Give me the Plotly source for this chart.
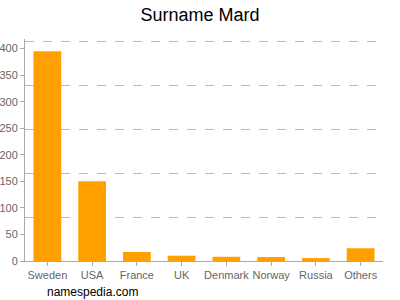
import plotly.graph_objects as go

countries = ["Sweden", "USA", "France", "UK", "Denmark", "Norway", "Russia", "Others"]
counts = [395, 150, 17, 10, 8, 7.5, 5.5, 24]
y_ticks = [0, 50, 100, 150, 200, 250, 300, 350, 400]
y_max = 418
grid_step = 82.8

fig = go.Figure()
fig.add_trace(go.Bar(
    x=countries, y=counts,
    marker=dict(color="#FFA000", line=dict(color="#FFC870", width=0)),
    hoverinfo="x+y",
))
fig.add_trace(go.Scatter(x=[countries[0]], y=[0], yaxis="y2", mode="markers",
                         marker=dict(opacity=0), showlegend=False, hoverinfo="skip"))

fig.update_layout(
    width=400, height=300,
    margin=dict(l=25, r=17, t=39, b=39),
    paper_bgcolor="white", plot_bgcolor="white",
    showlegend=False,
    bargap=0.38,
    title=dict(text="Surname Mard", x=0.5, xanchor="center", y=0.95, yanchor="middle",
               font=dict(family="Liberation Sans, Arial, sans-serif", size=18, color="#000")),
    font=dict(family="Liberation Sans, Arial, sans-serif", size=11, color="#666"),
    xaxis=dict(
        showline=True, linecolor="#aaa", linewidth=1,
        ticks="outside", ticklen=4, tickcolor="#aaa",
        tickfont=dict(size=11, color="#666"), tickangle=0, automargin=False,
        showgrid=False,
    ),
    yaxis=dict(
        range=[0, y_max], tickvals=y_ticks,
        showline=True, linecolor="#aaa", linewidth=1,
        ticks="outside", ticklen=4, tickcolor="#aaa",
        tickfont=dict(size=11, color="#666"), automargin=False,
        showgrid=False, zeroline=False,
    ),
    yaxis2=dict(
        overlaying="y", range=[0, y_max], tick0=0, dtick=grid_step,
        showgrid=True, gridcolor="#bbb", griddash="dash", gridwidth=1,
        showticklabels=False, zeroline=False, showline=False, side="right",
        automargin=False,
    ),
    annotations=[dict(text="namespedia.com", xref="paper", yref="paper",
                      x=(45 - 25) / 358, y=-(292 - 261) / 222, xanchor="left", yanchor="middle",
                      showarrow=False,
                      font=dict(family="Liberation Sans, Arial, sans-serif", size=12, color="#000"))],
)

fig.write_html("out.html")
